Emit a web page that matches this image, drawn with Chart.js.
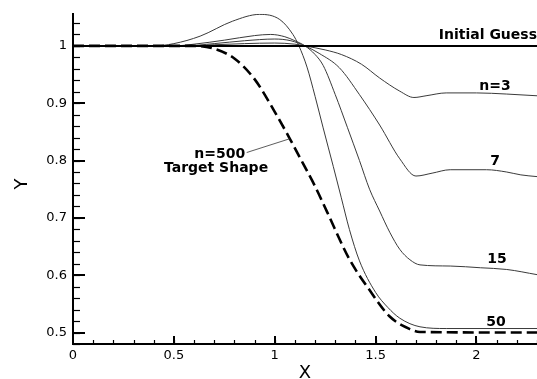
<!DOCTYPE html>
<html lang="en">
<head>
<meta charset="UTF-8">
<title>shape convergence</title>
<script src="https://cdn.jsdelivr.net/npm/chart.js"></script>
<style>
  html, body { margin: 0; padding: 0; background: #fff; }
  #wrap { position: relative; width: 537px; height: 379px; }
</style>
</head>
<body>
<div id="wrap"><canvas id="shapeChart"></canvas></div>
<script>
// tick values
const xTicks = [0, 0.5, 1, 1.5, 2];
const yTicks = [0.5, 0.6, 0.7, 0.8, 0.9, 1];

// initial guess (flat line)
const guessX = [0, 2.3];
const guessY = [1, 1];

// iteration n=3
const n3X = [0, 0.55, 0.7, 0.85, 1.0, 1.1, 1.15, 1.25, 1.33, 1.43, 1.52, 1.62, 1.69, 1.75, 1.85, 2.0, 2.15, 2.3];
const n3Y = [1, 1, 1.002, 1.004, 1.005, 1.003, 1.0, 0.993, 0.985, 0.968, 0.944, 0.921, 0.91, 0.913, 0.918, 0.918, 0.916, 0.913];

// iteration n=7
const n7X = [0, 0.55, 0.7, 0.85, 1.0, 1.08, 1.15, 1.22, 1.32, 1.42, 1.52, 1.62, 1.7, 1.78, 1.87, 2.05, 2.15, 2.22, 2.3];
const n7Y = [1, 1, 1.004, 1.009, 1.012, 1.009, 1.0, 0.987, 0.962, 0.915, 0.862, 0.803, 0.773, 0.778, 0.784, 0.784, 0.78, 0.775, 0.772];

// iteration n=15
const n15X = [0, 0.5, 0.6, 0.75, 0.9, 0.98, 1.05, 1.1, 1.15, 1.2, 1.24, 1.3, 1.36, 1.42, 1.47, 1.52, 1.57, 1.62, 1.67, 1.72, 1.87, 2.02, 2.15, 2.3];
const n15Y = [1, 1, 1.003, 1.01, 1.018, 1.02, 1.016, 1.009, 1.0, 0.985, 0.966, 0.915, 0.858, 0.8, 0.75, 0.712, 0.675, 0.645, 0.627, 0.618, 0.616, 0.613, 0.61, 0.601];

// iteration n=50
const n50X = [0, 0.4, 0.5, 0.63, 0.79, 0.925, 1.025, 1.09, 1.12, 1.16, 1.2, 1.24, 1.29, 1.33, 1.37, 1.42, 1.5, 1.56, 1.62, 1.72, 1.85, 2.3];
const n50Y = [1, 1, 1.004, 1.017, 1.043, 1.055, 1.046, 1.02, 1.0, 0.963, 0.912, 0.857, 0.79, 0.735, 0.68, 0.625, 0.57, 0.544, 0.525, 0.51, 0.507, 0.507];

// n=500 / target shape
const targetX = [0, 0.6, 0.7, 0.8, 0.9, 1.0, 1.075, 1.14, 1.2, 1.26, 1.37, 1.47, 1.57, 1.67, 1.72, 2.3];
const targetY = [1, 1, 0.995, 0.978, 0.942, 0.885, 0.838, 0.795, 0.755, 0.71, 0.628, 0.574, 0.528, 0.506, 0.501, 0.5];

// curve labels
const curveLabels = ['Initial Guess', 'n=3', '7', '15', '50', 'n=500', 'Target Shape'];
const labelX = [2.3, 2.092, 2.092, 2.102, 2.097, 0.727, 0.709];
const labelY = [1.018, 0.929, 0.799, 0.627, 0.517, 0.81, 0.787];
const pointerX = [0.861, 1.074];
const pointerY = [0.814, 0.838];

const toPoints = (xs, ys) => xs.map((x, i) => ({ x: x, y: ys[i] }));

function series(xs, ys, color, width, dash) {
    return {
        data: toPoints(xs, ys),
        showLine: true,
        borderColor: color,
        borderWidth: width,
        borderDash: dash || [],
        pointRadius: 0,
        cubicInterpolationMode: 'monotone',
        fill: false
    };
}

// minor tick positions
const xMinor = [];
for (let i = 1; i <= 23; i++) xMinor.push(i / 10);
const yMinor = [];
for (let i = 0; i <= 28; i++) yMinor.push(0.48 + i * 0.02);

// inward major/minor ticks, curve labels, Y title
const decorations = {
    id: 'decorations',
    afterDraw(chart) {
        const { ctx, chartArea: a, scales: { x, y } } = chart;
        ctx.save();
        ctx.strokeStyle = '#000';

        // x ticks
        ctx.lineWidth = 1.2;
        xMinor.forEach(v => {
            const px = Math.round(x.getPixelForValue(v)) + 0.5;
            ctx.beginPath(); ctx.moveTo(px, a.bottom); ctx.lineTo(px, a.bottom - 4); ctx.stroke();
        });
        ctx.lineWidth = 2;
        xTicks.forEach(v => {
            const px = Math.round(x.getPixelForValue(v));
            ctx.beginPath(); ctx.moveTo(px, a.bottom); ctx.lineTo(px, a.bottom - 8); ctx.stroke();
        });

        // y ticks
        ctx.lineWidth = 1.2;
        yMinor.forEach(v => {
            const py = Math.round(y.getPixelForValue(v)) + 0.5;
            ctx.beginPath(); ctx.moveTo(a.left, py); ctx.lineTo(a.left + 7, py); ctx.stroke();
        });
        ctx.lineWidth = 2;
        yTicks.forEach(v => {
            const py = Math.round(y.getPixelForValue(v));
            ctx.beginPath(); ctx.moveTo(a.left, py); ctx.lineTo(a.left + 12, py); ctx.stroke();
        });

        // pointer line to target curve
        ctx.lineWidth = 0.8;
        ctx.strokeStyle = '#333';
        ctx.beginPath();
        ctx.moveTo(x.getPixelForValue(pointerX[0]), y.getPixelForValue(pointerY[0]));
        ctx.lineTo(x.getPixelForValue(pointerX[1]), y.getPixelForValue(pointerY[1]));
        ctx.stroke();

        // curve labels
        ctx.fillStyle = '#000';
        ctx.font = 'bold 14px "DejaVu Sans"';
        ctx.textBaseline = 'middle';
        curveLabels.forEach((t, i) => {
            ctx.textAlign = i === 0 ? 'right' : 'center';
            ctx.fillText(t, x.getPixelForValue(labelX[i]), y.getPixelForValue(labelY[i]));
        });

        // Y axis title
        ctx.font = '18px "DejaVu Sans"';
        ctx.textAlign = 'center';
        ctx.translate(22, 184);
        ctx.rotate(-Math.PI / 2);
        ctx.fillText('Y', 0, 0);
        ctx.restore();
    }
};

new Chart(document.getElementById('shapeChart'), {
    type: 'scatter',
    data: {
        datasets: [
            series(guessX, guessY, '#000', 2),
            series(targetX, targetY, '#000', 2.6, [11, 5]),
            series(n50X, n50Y, '#3a3a3a', 1),
            series(n15X, n15Y, '#3a3a3a', 1),
            series(n7X, n7Y, '#3a3a3a', 1),
            series(n3X, n3Y, '#3a3a3a', 1)
        ]
    },
    options: {
        responsive: true,
        maintainAspectRatio: false,
        animation: false,
        layout: { padding: { top: 8, right: 0, bottom: 0, left: 0 } },
        plugins: {
            legend: { display: false },
            tooltip: { enabled: false }
        },
        scales: {
            x: {
                type: 'linear',
                min: 0,
                max: 2.3,
                afterFit(s) { s.height = 35; },
                afterBuildTicks(s) { s.ticks = xTicks.map(v => ({ value: v })); },
                grid: { display: false, drawTicks: false },
                border: { display: true, color: '#000', width: 2 },
                ticks: {
                    padding: 4,
                    color: '#000',
                    font: { family: 'DejaVu Sans', size: 13 },
                    callback: v => String(v)
                },
                title: {
                    display: true,
                    text: 'X',
                    color: '#000',
                    font: { family: 'DejaVu Sans', size: 18, lineHeight: 1 },
                    padding: { top: 0, bottom: -3 }
                }
            },
            y: {
                type: 'linear',
                min: 0.48,
                max: 1.056,
                afterFit(s) { s.width = 73; },
                afterBuildTicks(s) { s.ticks = yTicks.map(v => ({ value: v })); },
                grid: { display: false, drawTicks: false },
                border: { display: true, color: '#000', width: 2 },
                ticks: {
                    padding: 6,
                    color: '#000',
                    font: { family: 'DejaVu Sans', size: 13 },
                    callback: v => String(v)
                }
            }
        }
    },
    plugins: [decorations]
});
</script>
</body>
</html>
